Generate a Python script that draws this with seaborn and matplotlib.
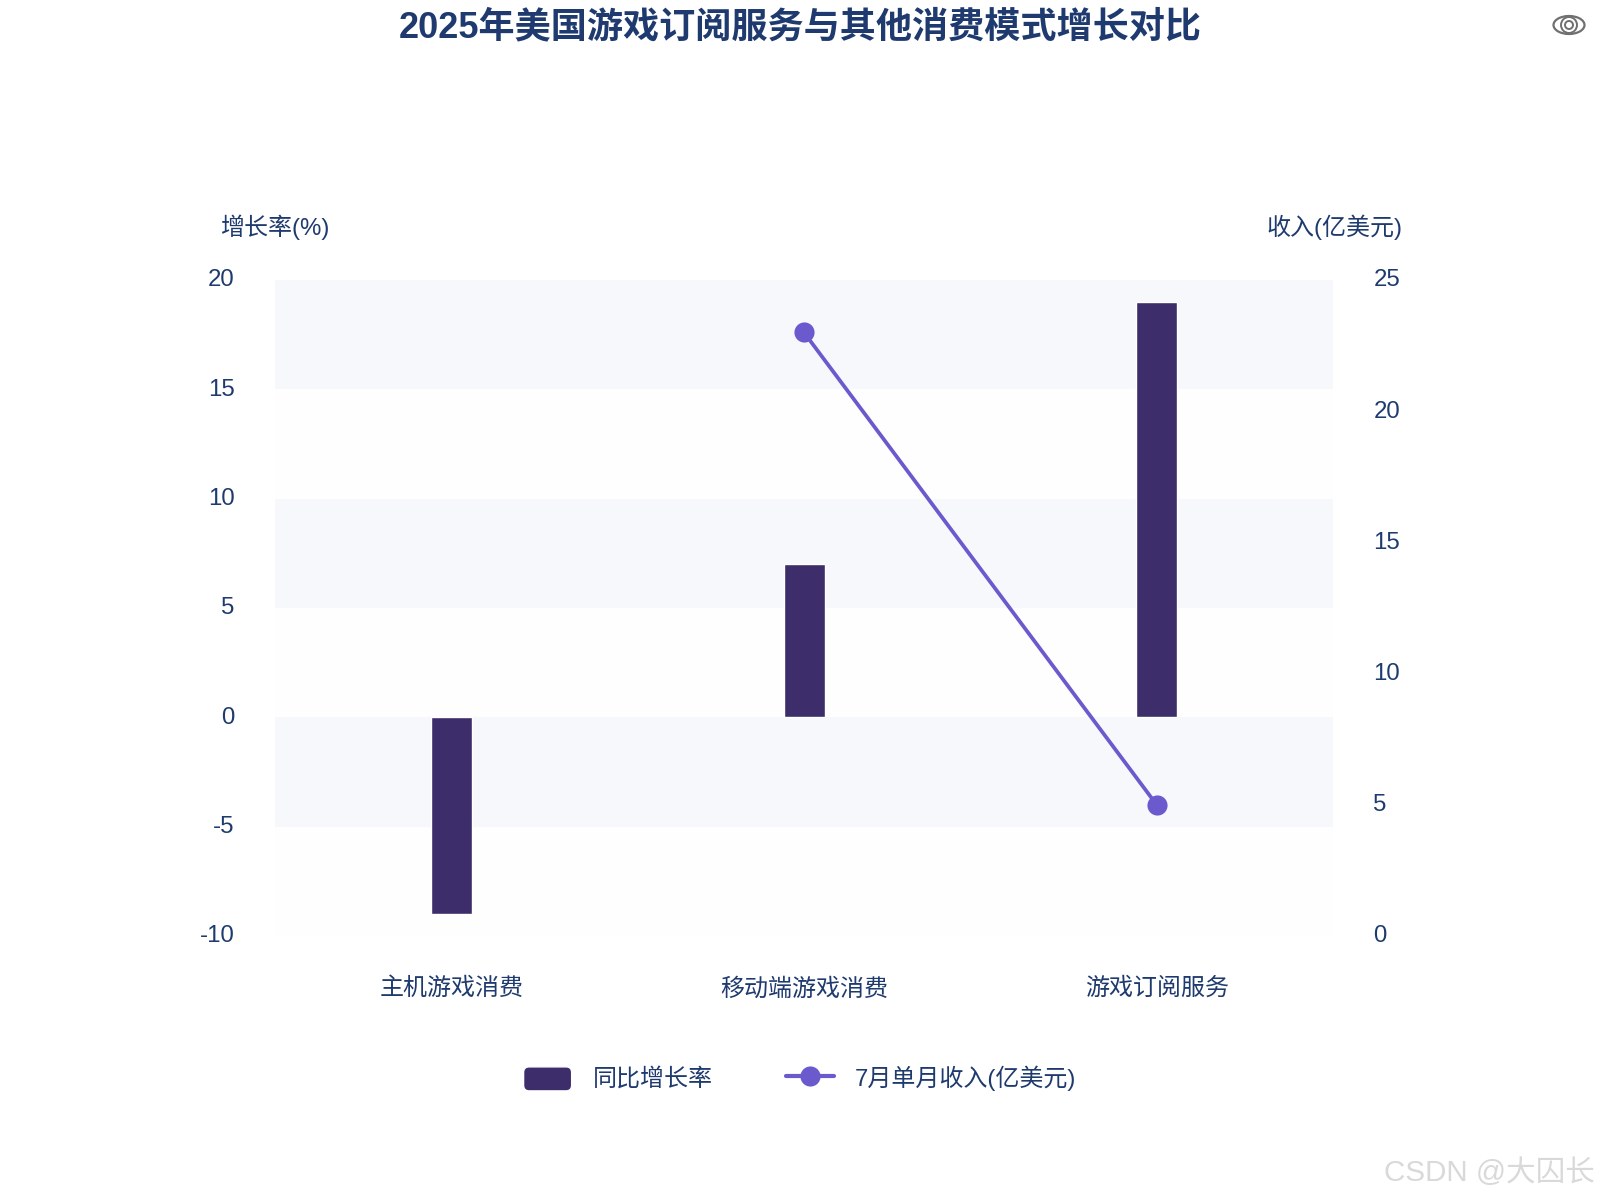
import numpy as np
import pandas as pd
import seaborn as sns
import matplotlib
matplotlib.use("Agg")
import matplotlib.pyplot as plt
from matplotlib.lines import Line2D
from matplotlib.patches import Patch, FancyBboxPatch, Ellipse
from matplotlib.legend_handler import HandlerPatch
from matplotlib.transforms import ScaledTranslation

categories = ["主机游戏消费", "移动端游戏消费", "游戏订阅服务"]
growth = [-9, 7, 19]
revenue = [np.nan, 23, 5]
left_ticks = [-10, -5, 0, 5, 10, 15, 20]
right_ticks = [0, 5, 10, 15, 20, 25]
title = "2025年美国游戏订阅服务与其他消费模式增长对比"
left_name = "增长率(%)"
right_name = "收入(亿美元)"
growth_name = "同比增长率"
revenue_name = "7月单月收入(亿美元)"
watermark = "CSDN @大囚长"

BAR = "#3d2e6b"
LINE = "#6a5acd"
TEXT = "#1e3a6e"
W, H = 1600, 1200

sns.set_theme(style="white")
plt.rcParams["font.family"] = ["Liberation Sans", "Noto Sans CJK SC", "DejaVu Sans"]
plt.rcParams["axes.unicode_minus"] = False

fig = plt.figure(figsize=(16, 12), dpi=100, facecolor="white")
L, R, T, B = 275, 1333, 280, 936
ax = fig.add_axes([L / W, 1 - B / H, (R - L) / W, (B - T) / H])
df = pd.DataFrame({"cat": categories, "growth": growth, "revenue": revenue})

for lo, hi in zip(left_ticks[:-1], left_ticks[1:]):
    ax.axhspan(lo, hi, color="#f7f8fc" if (lo // 5) % 2 == 1 else "#fefefe", lw=0, zorder=0)

sns.barplot(data=df, x="cat", y="growth", color=BAR, saturation=1, width=41 / ((R - L) / 3), ax=ax, zorder=2)
ax.set_xlim(-0.5, 2.5)
ax.set_ylim(left_ticks[0], left_ticks[-1])
ax.set_yticks(left_ticks)
ax.set_xlabel("")
ax.set_ylabel("")
ax.tick_params(axis="y", length=0, pad=29, labelsize=17.3, labelcolor=TEXT)
ax.tick_params(axis="x", length=0, pad=30, labelsize=17.3, labelcolor=TEXT)

ax2 = ax.twinx()
sns.lineplot(data=df, x="cat", y="revenue", color=LINE, linewidth=2.7, marker="o", markersize=14.5,
             markeredgewidth=0, sort=False, errorbar=None, ax=ax2, zorder=3)
ax2.set_ylim(right_ticks[0], right_ticks[-1])
ax2.set_yticks(right_ticks)
ax2.set_ylabel("")
ax2.set_xlabel("")
ax2.tick_params(axis="y", length=0, pad=29, labelsize=17.3, labelcolor=TEXT)
for a in (ax, ax2):
    a.grid(False)
    a.patch.set_alpha(0)
    for s in a.spines.values():
        s.set_visible(False)
ax.patch.set_alpha(1)

# nudge the value labels up so they sit as in the reference
nudge = ScaledTranslation(0, 1.5 / 72, fig.dpi_scale_trans)
for lab in ax.get_yticklabels() + ax2.get_yticklabels():
    lab.set_transform(lab.get_transform() + nudge)

fig.text(800 / W, 1 - 28 / H, title, ha="center", va="center", fontsize=26, fontweight="bold", color=TEXT)
fig.text(275 / W, 1 - 227 / H, left_name, ha="center", va="center", fontsize=17.3, color=TEXT)
fig.text(1334 / W, 1 - 227 / H, right_name, ha="center", va="center", fontsize=17.3, color=TEXT)
fig.text(1595 / W, 1 - 1173 / H, watermark, ha="right", va="center", fontsize=21.3, color="#d9d9d9")


def rounded(legend, orig_handle, xdescent, ydescent, width, height, fontsize):
    h = 17.3
    y = -ydescent + height / 2 - h / 2 - 1
    return FancyBboxPatch((-xdescent, y), width, h, boxstyle="round,pad=0,rounding_size=4",
                          mutation_aspect=1, facecolor=BAR, edgecolor="none")


handles = [
    Patch(facecolor=BAR, label=growth_name),
    Line2D([], [], color=LINE, lw=3, marker="o", markersize=14.5, markeredgewidth=0, label=revenue_name),
]
leg = fig.legend(handles=handles, loc="center", bbox_to_anchor=(800 / W, 1 - 1078 / H), ncol=2, frameon=False,
                 fontsize=17.3, labelcolor=TEXT, handlelength=2.0, handleheight=1.0, handletextpad=0.88,
                 columnspacing=3.04, handler_map={Patch: HandlerPatch(patch_func=rounded)})

# eye icon at the top right corner
cx, cy = 1569 / W, 1 - 25 / H
for w, h, lw in [(31, 18, 1.6), (16, 16, 1.4), (8, 8, 1.4)]:
    fig.add_artist(Ellipse((cx, cy), w / W, h / H, transform=fig.transFigure, facecolor="none",
                           edgecolor="#707070", lw=lw))

fig.savefig("out.png", dpi=100, facecolor="white")
